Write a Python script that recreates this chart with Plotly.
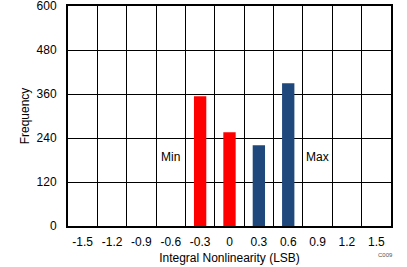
import plotly.graph_objects as go

categories = ["-1.5", "-1.2", "-0.9", "-0.6", "-0.3", "0", "0.3", "0.6", "0.9", "1.2", "1.5"]
min_values = [None, None, None, None, 354, 256, None, None, None, None, None]
max_values = [None, None, None, None, None, None, 220, 389, None, None, None]
y_ticks = [0, 120, 240, 360, 480, 600]

idx = list(range(len(categories)))
font = dict(family="Liberation Sans, Arial, sans-serif", size=12, color="black")

fig = go.Figure()
fig.add_trace(go.Bar(x=idx, y=min_values, name="Min", marker=dict(color="#FF0000", line=dict(width=0)), width=0.42))
fig.add_trace(go.Bar(x=idx, y=max_values, name="Max", marker=dict(color="#1F497D", line=dict(width=0)), width=0.42))

fig.add_annotation(x=3, y=188, text="Min", showarrow=False, font=font)
fig.add_annotation(x=8, y=188, text="Max", showarrow=False, font=font)
fig.add_annotation(x=1.0, y=-0.13, xref="paper", yref="paper", text="C009", showarrow=False,
                   xanchor="right", yanchor="middle", xshift=4,
                   font=dict(family="Liberation Sans, Arial, sans-serif", size=6, color="#555555"))

fig.update_layout(
    width=407, height=267,
    margin=dict(l=68, r=16, t=6, b=41),
    paper_bgcolor="white", plot_bgcolor="white",
    showlegend=False, barmode="overlay",
    font=font,
)
fig.update_xaxes(
    range=[-0.5, len(categories) - 0.5], automargin=False,
    tickmode="array", tickvals=idx, ticktext=categories,
    showgrid=False, zeroline=False,
    showline=True, linecolor="black", linewidth=2, mirror=True,
    ticks="outside", ticklen=4, tickcolor="rgba(0,0,0,0)",
    minor=dict(tickmode="linear", tick0=0.5, dtick=1, showgrid=True, gridcolor="black", gridwidth=1, ticks=""),
    title=dict(text="Integral Nonlinearity (LSB)", font=font, standoff=5),
)
fig.update_yaxes(
    range=[0, 600], automargin=False, ticklabeloverflow="allow",
    tickmode="array", tickvals=y_ticks,
    showgrid=True, gridcolor="black", gridwidth=1, zeroline=False,
    showline=True, linecolor="black", linewidth=2, mirror=True,
    ticks="outside", ticklen=7, tickcolor="rgba(0,0,0,0)",
    title=dict(text="Frequency", font=font, standoff=4),
)

fig.write_html("out.html")
